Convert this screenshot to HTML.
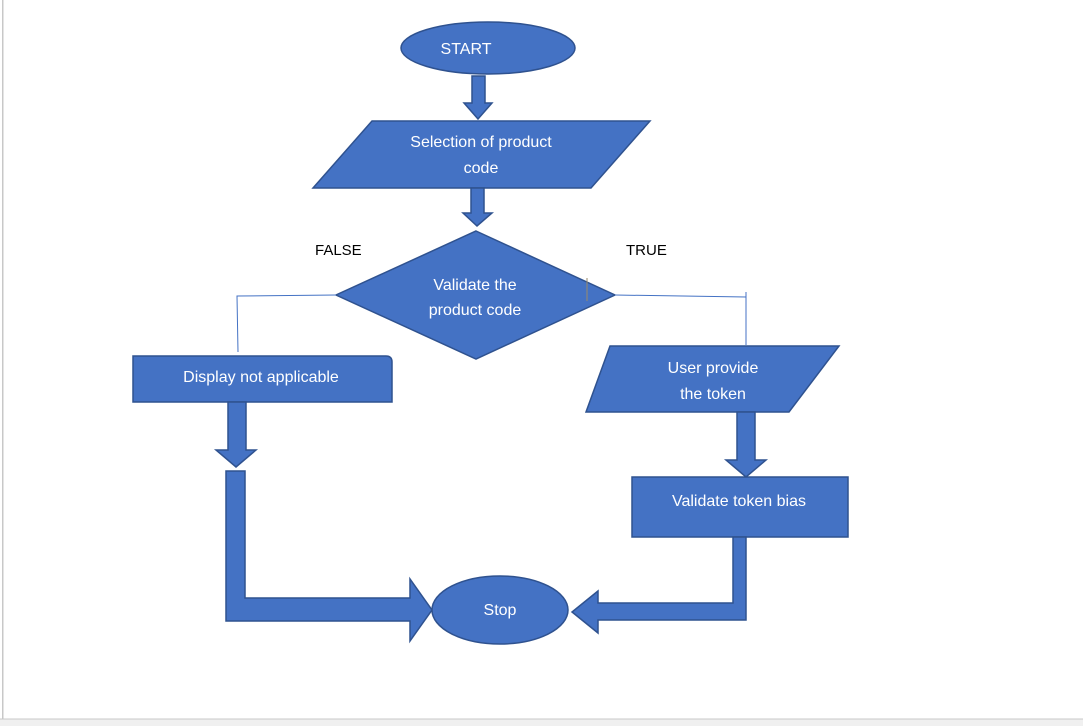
<!DOCTYPE html>
<html><head><meta charset="utf-8"><style>
html,body{margin:0;padding:0;background:#fff;}
svg{display:block;}
text{font-family:"Liberation Sans",sans-serif;}
</style></head><body>
<svg width="1083" height="726" viewBox="0 0 1083 726" xmlns="http://www.w3.org/2000/svg">
<rect x="0" y="0" width="1083" height="726" fill="#fff"/>
<rect x="2" y="0" width="1.5" height="719" fill="#c8c8c8"/>
<rect x="0" y="719" width="1083" height="7" fill="#f0f0f0"/>
<rect x="0" y="718.5" width="1083" height="1" fill="#c8c8c8"/>
<g fill="#4472c4" stroke="#2f528f" stroke-width="1.5">
<ellipse cx="488" cy="48" rx="87" ry="26"/>
<polygon points="472,76 485,76 485,103 492,103 478,119 464,103 472,103"/>
<polygon points="372,121 650,121 591,188 313,188"/>
<polygon points="471,188 484,188 484,213 492,213 477,226 463,213 471,213"/>
<polygon points="476,231 615,295 476,359 336,295"/>
<path d="M133,356 H386 Q392,356 392,362 V402 H133 Z"/>
<polygon points="228,402 246,402 246,450 256,450 236,467 216,450 228,450"/>
<polygon points="226,471 245,471 245,598 410,598 410,579 432,610 410,641 410,621 226,621"/>
<ellipse cx="500" cy="610" rx="68" ry="34"/>
<polygon points="610,346 839,346 789,412 586,412"/>
<polygon points="737,412 755,412 755,460 766,460 746,477 726,460 737,460"/>
<rect x="632" y="477" width="216" height="60"/>
<polygon points="733,537 746,537 746,620 598,620 598,633 572,612 598,591 598,603 733,603"/>
</g>
<g stroke="#4472c4" stroke-width="1" fill="none">
<polyline points="336,295 237,296 238,352"/>
<polyline points="615,295 746,297"/>
<line x1="746" y1="292" x2="746" y2="345"/>
</g>
<line x1="587" y1="278" x2="587" y2="301" stroke="#9a8a6a" stroke-width="1"/>
<g fill="#fff" font-size="16" text-anchor="middle">
<text x="466" y="54">START</text>
<text x="481" y="147">Selection of product</text>
<text x="481" y="173">code</text>
<text x="475" y="290">Validate the</text>
<text x="475" y="315">product code</text>
<text x="261" y="382">Display not applicable</text>
<text x="713" y="373">User provide</text>
<text x="713" y="399">the token</text>
<text x="739" y="506">Validate token bias</text>
<text x="500" y="615">Stop</text>
</g>
<g fill="#000" font-size="15">
<text x="315" y="255">FALSE</text>
<text x="626" y="255">TRUE</text>
</g>
</svg>
</body></html>
